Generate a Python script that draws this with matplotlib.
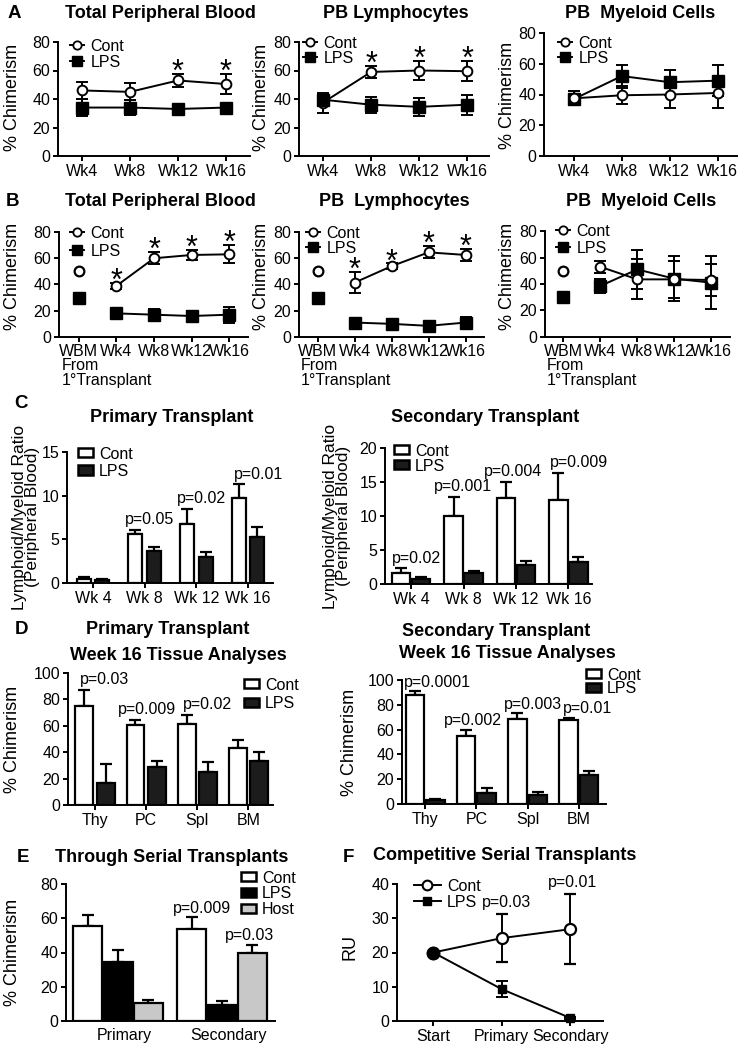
import matplotlib
matplotlib.use("Agg")
import matplotlib.pyplot as plt
from matplotlib.lines import Line2D
from matplotlib.patches import Patch
import numpy as np

plt.rcParams['font.family'] = ['Liberation Sans', 'DejaVu Sans']
plt.rcParams['axes.linewidth'] = 1.4
plt.rcParams['xtick.major.width'] = 1.4
plt.rcParams['ytick.major.width'] = 1.4
plt.rcParams['xtick.major.size'] = 3.5
plt.rcParams['ytick.major.size'] = 3.5
plt.rcParams['xtick.labelsize'] = 11.5
plt.rcParams['ytick.labelsize'] = 11.5

# ---------------- data ----------------
weeks = ["Wk4", "Wk8", "Wk12", "Wk16"]
weeks_b = ["WBM", "Wk4", "Wk8", "Wk12", "Wk16"]

a_tpb_cont = [46, 45, 53, 50.5]
a_tpb_cont_err = [6, 6, 4.5, 7]
a_tpb_lps = [34, 34, 33, 34]
a_tpb_lps_err = [6, 5, 2, 2]
a_tpb_sig = [0, 0, 1, 1]

a_lym_cont = [37.5, 59, 60, 59.5]
a_lym_cont_err = [7, 4.5, 7, 7]
a_lym_lps = [39.5, 36, 34.5, 36]
a_lym_lps_err = [3.5, 5.5, 6.5, 7]
a_lym_sig = [0, 1, 1, 1]

a_mye_cont = [37.5, 39.5, 40, 41]
a_mye_cont_err = [4.5, 6, 9, 10]
a_mye_lps = [37, 52, 48, 49]
a_mye_lps_err = [3, 7.5, 8, 10]
a_mye_sig = [0, 0, 0, 0]

b_wbm_cont = 50
b_wbm_lps = 30

b_tpb_cont = [39, 60, 62.5, 63]
b_tpb_cont_err = [2.5, 4.5, 4, 7]
b_tpb_lps = [18, 17, 16, 17]
b_tpb_lps_err = [1.5, 4, 4, 6]
b_tpb_sig = [1, 1, 1, 1]

b_lym_cont = [41.5, 54, 64.5, 62.5]
b_lym_cont_err = [8, 2, 4.5, 4.5]
b_lym_lps = [11, 10, 8.5, 11]
b_lym_lps_err = [2, 1.5, 1, 4]
b_lym_sig = [1, 1, 1, 1]

b_mye_cont = [53, 43.5, 43.5, 43]
b_mye_cont_err = [4.5, 15, 14, 12]
b_mye_lps = [38.5, 51, 44, 41]
b_mye_lps_err = [5, 15, 17, 20]
b_mye_sig = [0, 0, 0, 0]

c_weeks = ["Wk 4", "Wk 8", "Wk 12", "Wk 16"]
c1_cont = [0.5, 5.6, 6.8, 9.7]
c1_cont_err = [0.2, 0.5, 1.7, 1.6]
c1_lps = [0.4, 3.7, 3.0, 5.3]
c1_lps_err = [0.1, 0.4, 0.6, 1.1]
c1_p = ["", "p=0.05", "p=0.02", "p=0.01"]

c2_cont = [1.6, 10.0, 12.6, 12.3]
c2_cont_err = [0.7, 2.8, 2.4, 4.0]
c2_lps = [0.7, 1.6, 2.8, 3.2]
c2_lps_err = [0.4, 0.3, 0.6, 0.8]
c2_p = ["p=0.02", "p=0.001", "p=0.004", "p=0.009"]

tissues = ["Thy", "PC", "Spl", "BM"]
d1_cont = [75, 60.5, 61, 43]
d1_cont_err = [12, 4, 7, 6.5]
d1_lps = [17, 29, 25, 33]
d1_lps_err = [14, 4, 7.5, 7]
d1_p = ["p=0.03", "p=0.009", "p=0.02", ""]

d2_cont = [88, 54.5, 68.5, 67.5]
d2_cont_err = [3, 5.5, 4.5, 2]
d2_lps = [3, 9, 7.5, 23.5]
d2_lps_err = [1, 4, 2.5, 3.5]
d2_p = ["p=0.0001", "p=0.002", "p=0.003", "p=0.01"]

e_groups = ["Primary", "Secondary"]
e_cont = [55.5, 53.5]
e_cont_err = [6.5, 7]
e_lps = [34.5, 9.5]
e_lps_err = [7, 2]
e_host = [10.5, 39.5]
e_host_err = [1.5, 5]
e_p_cont = ["", "p=0.009"]
e_p_host = ["", "p=0.03"]

f_steps = ["Start", "Primary", "Secondary"]
f_cont = [20, 24.2, 26.8]
f_cont_err = [0, 7, 10.3]
f_lps = [20, 9.3, 0.9]
f_lps_err = [0, 2.4, 0.4]
f_p = ["", "p=0.03", "p=0.01"]

# ---------------- layout helpers ----------------
W, H = 745, 1050
fig = plt.figure(figsize=(W / 100, H / 100), dpi=100)


def add_ax(x0, x1, ytop, ybot):
    ax = fig.add_axes([x0 / W, 1 - ybot / H, (x1 - x0) / W, (ybot - ytop) / H])
    for s in ['top', 'right']:
        ax.spines[s].set_visible(False)
    ax.tick_params(direction='out', pad=2)
    return ax


def ftext(x, y, s, **kw):
    kw.setdefault('ha', 'center')
    kw.setdefault('va', 'center')
    fig.text(x / W, 1 - y / H, s, **kw)


def title(x, y, s):
    ftext(x, y, s, fontsize=13, fontweight='bold')


def letter(x, y, s):
    ftext(x, y, s, fontsize=13.5, fontweight='bold')


def ylab(x, y, s, ls=1.0, fs=13):
    ftext(x, y, s, fontsize=fs, rotation=90, linespacing=ls)


def legend(ax, handles, labels, x, y, hl=0.9, hh=0.7, sp=0.0, fs=11.5):
    lg = ax.legend(handles, labels, loc='upper left',
                   bbox_to_anchor=(x / W, 1 - y / H), bbox_transform=fig.transFigure,
                   frameon=True, framealpha=1, facecolor='white', edgecolor='none',
                   borderpad=0.1, borderaxespad=0, handletextpad=0.4,
                   labelspacing=sp, handlelength=hl, handleheight=hh, fontsize=fs)
    lg.get_frame().set_linewidth(0)
    return lg


ekw = dict(color='k', lw=1.4, capsize=4, capthick=1.4, elinewidth=1.4, clip_on=False)


def line_handles():
    hc = Line2D([0], [0], color='k', lw=1.4, marker='o', ms=6, mfc='white', mec='k', mew=1.3)
    hs = Line2D([0], [0], color='k', lw=1.4, marker='s', ms=6.5, mfc='k', mec='k')
    return [hc, hs]


def line_panel(ax, cont, ce, lps, le, sig, x0, cont_top=False, sq=8):
    x = np.arange(len(cont)) + x0
    zc, zl = (4, 3) if cont_top else (3, 4)
    ax.errorbar(x, cont, yerr=ce, marker='o', ms=7, mfc='white', mec='k', mew=1.4,
                zorder=zc, **ekw)
    ax.errorbar(x, lps, yerr=le, marker='s', ms=sq, mfc='k', mec='k', zorder=zl, **ekw)
    for xi, c, e1, l, e2, s in zip(x, cont, ce, lps, le, sig):
        if s:
            ax.annotate('*', xy=(xi, max(c + e1, l + e2)), xytext=(0, -5),
                        textcoords='offset points', ha='center', va='baseline',
                        fontsize=22)
    ax.set_ylim(0, 80)
    ax.set_yticks([0, 20, 40, 60, 80])


# ---------------- Panel A ----------------
axA1 = add_ax(58, 250, 42, 156)
line_panel(axA1, a_tpb_cont, a_tpb_cont_err, a_tpb_lps, a_tpb_lps_err, a_tpb_sig, 0, sq=9)
axA1.set_xlim(-0.5, 3.5)
axA1.set_xticks(range(4), weeks)
legend(axA1, line_handles(), ["Cont", "LPS"], 68, 37, sp=0.08)

axA2 = add_ax(299, 489, 42, 156)
line_panel(axA2, a_lym_cont, a_lym_cont_err, a_lym_lps, a_lym_lps_err, a_lym_sig, 0, sq=9)
axA2.set_xlim(-0.5, 3.45)
axA2.set_xticks(range(4), weeks)
legend(axA2, line_handles(), ["Cont", "LPS"], 301, 34, sp=0.0)

axA3 = add_ax(544, 737, 33, 156)
line_panel(axA3, a_mye_cont, a_mye_cont_err, a_mye_lps, a_mye_lps_err, a_mye_sig, 0,
           cont_top=True, sq=9)
axA3.set_xlim(-0.62, 3.4)
axA3.set_xticks(range(4), weeks)
legend(axA3, line_handles(), ["Cont", "LPS"], 556, 34, sp=0.0)

letter(14, 14, "A")
title(160, 14, "Total Peripheral Blood")
title(396, 14, "PB Lymphocytes")
title(640, 14, "PB  Myeloid Cells")
ylab(13, 97, "% Chimerism")
ylab(262, 97, "% Chimerism")
ylab(507, 95, "% Chimerism")

# ---------------- Panel B ----------------
b_sets = [
    (59, 248, 232, 337, b_tpb_cont, b_tpb_cont_err, b_tpb_lps, b_tpb_lps_err, b_tpb_sig, -0.53, 68, 224, 0.2, 62, False),
    (299, 484, 232, 337, b_lym_cont, b_lym_cont_err, b_lym_lps, b_lym_lps_err, b_lym_sig, -0.51, 304, 224, 0.0, 301, False),
    (545, 730, 231, 337, b_mye_cont, b_mye_cont_err, b_mye_lps, b_mye_lps_err, b_mye_sig, -0.49, 554, 222, 0.13, 547, True),
]
for (x0, x1, yt, yb, c, ce, l, le, sg, xl, lx, ly, lsp, fx, ctop) in b_sets:
    ax = add_ax(x0, x1, yt, yb)
    line_panel(ax, c, ce, l, le, sg, 1, cont_top=ctop, sq=8)
    ax.plot([0], [b_wbm_cont], marker='o', ms=7, mfc='white', mec='k', mew=1.6,
            ls='none', zorder=4)
    ax.plot([0], [b_wbm_lps], marker='s', ms=8, mfc='k', mec='k', ls='none', zorder=4)
    ax.set_xlim(xl, 4.5)
    ax.set_xticks(range(5), weeks_b)
    ax.tick_params(axis='x', pad=1.5)
    legend(ax, line_handles(), ["Cont", "LPS"], lx, ly, sp=lsp)
    ftext(fx, 365, "From", fontsize=11.5, ha='left')
    ftext(fx, 380, "1°Transplant", fontsize=11.5, ha='left')

letter(13, 202, "B")
title(160, 202, "Total Peripheral Blood")
title(394, 202, "PB  Lymphocytes")
title(641, 202, "PB  Myeloid Cells")
ylab(13, 276, "% Chimerism")
ylab(262, 276, "% Chimerism")
ylab(507, 276, "% Chimerism")

# ---------------- bar helpers ----------------
LPS_C = '#1c1c1c'
HOST_C = '#c8c8c8'
bkw = dict(edgecolor='k', linewidth=1.6, zorder=3)
ebk = dict(elinewidth=1.6, capthick=1.6, capsize=4, ecolor='k', zorder=2)


def bars(ax, x, vals, errs, color, width):
    n = len(vals)
    ax.bar(x, vals, width, color=color, yerr=[[0] * n, errs], error_kw=ebk, **bkw)


def bar_handles(colors):
    return [Patch(facecolor=c, edgecolor='k', linewidth=1.8) for c in colors]


def pvals(ax, x, tops, labels, dxs=None, dy=2):
    if dxs is None:
        dxs = [0] * len(labels)
    for xi, t, s, dx in zip(x, tops, labels, dxs):
        if s:
            ax.annotate(s, xy=(xi, t), xytext=(dx * 0.72, dy), textcoords='offset points',
                        ha='center', va='bottom', fontsize=11.5)


# ---------------- Panel C ----------------
axC1 = add_ax(67, 273, 452, 583)
x = np.arange(4)
bars(axC1, x - 0.18, c1_cont, c1_cont_err, 'white', 0.27)
bars(axC1, x + 0.18, c1_lps, c1_lps_err, LPS_C, 0.27)
axC1.set_xlim(-0.5, 3.48)
axC1.set_ylim(0, 15)
axC1.set_yticks([0, 5, 10, 15])
axC1.set_xticks(x, c_weeks)
pvals(axC1, x, np.add(c1_cont, c1_cont_err), c1_p, dxs=[0, 5, 5, 10])
legend(axC1, bar_handles(['white', LPS_C]), ["Cont", "LPS"], 76, 445, hl=0.95, hh=0.5, sp=0.13)

axC2 = add_ax(385, 592, 448, 584)
bars(axC2, x - 0.19, c2_cont, c2_cont_err, 'white', 0.35)
bars(axC2, x + 0.19, c2_lps, c2_lps_err, LPS_C, 0.35)
axC2.set_xlim(-0.5, 3.45)
axC2.set_ylim(0, 20)
axC2.set_yticks([0, 5, 10, 15, 20])
axC2.set_xticks(x, c_weeks)
pvals(axC2, x, np.add(c2_cont, c2_cont_err), c2_p, dxs=[5, -1, -3, 11])
legend(axC2, bar_handles(['white', LPS_C]), ["Cont", "LPS"], 392, 442, hl=0.95, hh=0.5, sp=0.0)

letter(21, 404, "C")
title(172, 418, "Primary Transplant")
title(485, 418, "Secondary Transplant")
ylab(26, 517, "Lymphoid/Myeloid Ratio\n(Peripheral Blood)", ls=0.8, fs=12.5)
ylab(337, 516, "Lymphoid/Myeloid Ratio\n(Peripheral Blood)", ls=0.8, fs=12.5)

# ---------------- Panel D ----------------
axD1 = add_ax(68, 273, 673, 805)
bars(axD1, x - 0.21, d1_cont, d1_cont_err, 'white', 0.35)
bars(axD1, x + 0.21, d1_lps, d1_lps_err, LPS_C, 0.35)
axD1.set_xlim(-0.53, 3.48)
axD1.set_ylim(0, 100)
axD1.set_yticks([0, 20, 40, 60, 80, 100])
axD1.set_xticks(x, tissues)
pvals(axD1, x, np.add(d1_cont, d1_cont_err), d1_p, dxs=[9, 1, 10, 0])
legend(axD1, bar_handles(['white', LPS_C]), ["Cont", "LPS"], 242, 676, hl=0.95, hh=0.5, sp=0.2)

axD2 = add_ax(402, 606, 680, 804)
bars(axD2, x - 0.2, d2_cont, d2_cont_err, 'white', 0.36)
bars(axD2, x + 0.2, d2_lps, d2_lps_err, LPS_C, 0.36)
axD2.set_xlim(-0.45, 3.53)
axD2.set_ylim(0, 100)
axD2.set_yticks([0, 20, 40, 60, 80, 100])
axD2.set_xticks(x, tissues)
pvals(axD2, x, np.add(d2_cont, d2_cont_err), d2_p, dxs=[12, -3, 5, 9], dy=1)
legend(axD2, bar_handles(['white', LPS_C]), ["Cont", "LPS"], 584, 666, hl=0.95, hh=0.5,
       sp=-0.1)

letter(22, 629, "D")
title(168, 630, "Primary Transplant")
title(178, 655, "Week 16 Tissue Analyses")
title(496, 631, "Secondary Transplant")
title(507, 654, "Week 16 Tissue Analyses")
ylab(13, 739, "% Chimerism")
ylab(350, 742, "% Chimerism")

# ---------------- Panel E ----------------
axE = add_ax(66, 275, 884, 1021)
xe = np.arange(2)
bars(axE, xe - 0.29, e_cont, e_cont_err, 'white', 0.28)
bars(axE, xe, e_lps, e_lps_err, 'black', 0.28)
bars(axE, xe + 0.29, e_host, e_host_err, HOST_C, 0.28)
axE.set_xlim(-0.5, 1.51)
axE.set_ylim(0, 80)
axE.set_yticks([0, 20, 40, 60, 80])
axE.set_xticks(xe + 0.06, e_groups)
axE.tick_params(axis='x', length=0, pad=5)
pvals(axE, xe - 0.29, np.add(e_cont, e_cont_err), e_p_cont, dxs=[0, 10], dy=1)
pvals(axE, xe + 0.29, np.add(e_host, e_host_err), e_p_host, dxs=[0, -3], dy=1)
legend(axE, bar_handles(['white', 'black', HOST_C]), ["Cont", "LPS", "Host"], 239, 869,
       hl=0.95, hh=0.5, sp=0.05)

letter(23, 857, "E")
title(172, 857, "Through Serial Transplants")
ylab(13, 952, "% Chimerism")

# ---------------- Panel F ----------------
axF = add_ax(397, 603, 884, 1021)
xf = np.arange(3)
axF.errorbar(xf, f_cont, yerr=f_cont_err, marker='o', ms=8, mfc='white', mec='k', mew=1.6,
             zorder=3, **ekw)
axF.errorbar(xf, f_lps, yerr=f_lps_err, marker='s', ms=6, mfc='k', mec='k', zorder=3, **ekw)
axF.plot(xf[:1], f_cont[:1], marker='o', ms=9, color='k', ls='none', zorder=5)
axF.set_xlim(-0.53, 2.48)
axF.set_ylim(0, 40)
axF.set_yticks([0, 10, 20, 30, 40])
axF.set_xticks(xf, f_steps)
pvals(axF, xf, np.add(f_cont, f_cont_err), f_p, dxs=[0, 5, 2], dy=3)
hF = [Line2D([0], [0], color='k', lw=1.4, marker='o', ms=7, mfc='white', mec='k', mew=1.5),
      Line2D([0], [0], color='k', lw=1.4, marker='s', ms=5.5, mfc='k', mec='k')]
legend(axF, hF, ["Cont", "LPS"], 412, 877, hl=1.7, sp=0.07)

letter(348, 857, "F")
title(505, 855, "Competitive Serial Transplants")
ylab(350, 947, "RU")

fig.savefig("out.png", dpi=100)
